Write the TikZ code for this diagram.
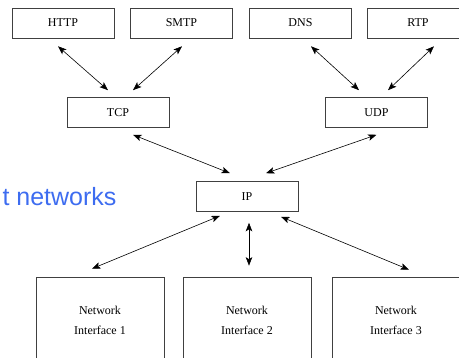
\documentclass[tikz,border=0pt]{standalone}
\usepackage{fontspec}
\setmainfont{Liberation Serif}
\newfontfamily\arialfont{Liberation Sans}
\usetikzlibrary{arrows.meta,calc}
\definecolor{slideblue}{RGB}{61,108,240}
\tikzset{
  proto/.style={draw=black!75,line width=0.6pt,minimum width=102pt,minimum height=30pt,inner sep=0pt,font=\fontsize{12}{20}\selectfont},
  netif/.style={draw=black!75,line width=0.6pt,minimum width=128pt,minimum height=86pt,inner sep=0pt,align=center,font=\fontsize{12}{20}\selectfont},
  link/.style={{Stealth[length=8.5pt,width=6.5pt,inset=2pt]}-{Stealth[length=8.5pt,width=6.5pt,inset=2pt]},line width=0.6pt}
}
\begin{document}
\begin{tikzpicture}[x=1pt,y=-1pt]
\useasboundingbox (0,0) rectangle (459,358);
\clip (0,0) rectangle (459,358);
\node[proto] (HTTP) at (63,23) {HTTP};
\node[proto] (SMTP) at (181.5,23) {SMTP};
\node[proto] (DNS) at (300.5,23) {DNS};
\node[proto] (RTP) at (418,23) {RTP}; % application layer
\node[proto] (TCP) at (118,112.5) {TCP};
\node[proto] (UDP) at (376.5,112.5) {UDP}; % transport
\node[proto] (IP) at (247,196.5) {IP};
\node[netif] (NI1) at (100,320) {Network\\Interface 1};
\node[netif] (NI2) at (247,320) {Network\\Interface 2};
\node[netif] (NI3) at (396,320) {Network\\Interface 3}; % link layer
\node[anchor=base east,text=slideblue,font=\arialfont\fontsize{25}{30}\selectfont] (title) at (120,206) {t networks};
\draw[link] ($(HTTP.south)+(-5,8)$) -- ($(TCP.north)+(-10,-7)$);
\draw[link] ($(SMTP.south)+(0.5,8)$) -- ($(TCP.north)+(15,-7)$);
\draw[link] ($(DNS.south)+(10.5,8)$) -- ($(UDP.north)+(-17.5,-7)$);
\draw[link] ($(RTP.south)+(16,8)$) -- ($(UDP.north)+(11.5,-7)$);
\draw[link] ($(TCP.south)+(15,7)$) -- ($(IP.north)+(-17,-8)$);
\draw[link] ($(UDP.south)+(0,7)$) -- ($(IP.north)+(19,-8)$);
\draw[link] ($(IP.south)+(-27,4)$) -- ($(NI1.north)+(-8,-8)$);
\draw[link] ($(IP.south)+(2,11)$) -- ($(NI2.north)+(2,-11)$);
\draw[link] ($(IP.south)+(34,5)$) -- ($(NI3.north)+(13,-7)$);
\end{tikzpicture}
\end{document}
